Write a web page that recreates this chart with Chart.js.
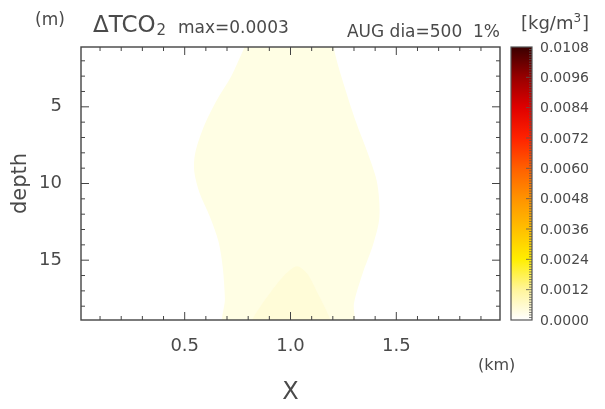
<!DOCTYPE html>
<html>
<head>
<meta charset="utf-8">
<script src="https://cdn.jsdelivr.net/npm/chart.js@4.4.0/dist/chart.umd.min.js"></script>
<style>
  body { margin: 0; background: #fff; }
  #wrap { width: 605px; height: 409px; }
</style>
</head>
<body>
<div id="wrap"><canvas id="myChart"></canvas></div>
<script>
// contour level 1 (outer, faint) boundary: x in km, depth in m
const outerX     = [0.81, 0.77, 0.72, 0.65, 0.59, 0.55, 0.545, 0.57, 0.62, 0.66, 0.68, 0.69, 0.69, 1.29, 1.30, 1.34, 1.39, 1.42, 1.41, 1.37, 1.31, 1.26, 1.21, 1.20]
const outerDepth = [0.3, 1.5, 3.0, 4.6, 6.3, 8.0, 9.2, 10.6, 12.2, 13.8, 15.5, 17.5, 19.5, 19.5, 17.8, 15.9, 14.0, 12.2, 10.0, 8.2, 6.0, 3.9, 1.5, 0.3]
// contour level 2 (inner) near the bottom
const innerX     = [0.80, 0.83, 0.90, 0.97, 1.03, 1.08, 1.13, 1.18, 1.20]
const innerDepth = [19.5, 18.6, 17.2, 16.0, 15.4, 15.9, 17.2, 18.6, 19.5]

const xTicks = [0.5, 1.0, 1.5]
const depthTicks = [5, 10, 15]
const cbLevels = [0, 0.0012, 0.0024, 0.0036, 0.0048, 0.0060, 0.0072, 0.0084, 0.0096, 0.0108]
const cbColors = ['#ffffff', '#fff59a', '#ffee00', '#ffbf00', '#ff9300', '#ff6000', '#ff2200', '#e00000', '#980000', '#3a0000']
const levelColors = ['#fffee4', '#fffcd8']

const textColor = '#4a4a4a'
const font = 'DejaVu Sans'

const poly = (xs, ds) => xs.map((v, i) => ({x: v, y: ds[i]}))

const framePlugin = {
    id: 'frame',
    afterDraw(chart) {
        const ctx = chart.ctx
        const a = chart.chartArea
        const xs = chart.scales.x
        const ys = chart.scales.y
        ctx.save()
        ctx.strokeStyle = '#444'
        ctx.lineWidth = 1.4
        ctx.strokeRect(a.left, a.top, a.right - a.left, a.bottom - a.top)
        ctx.lineWidth = 1
        // x ticks, inward, bottom and top
        for (let i = 1; i < 20; i++) {
            const px = xs.getPixelForValue(i / 10)
            const len = i % 5 === 0 ? 8 : 4
            ctx.beginPath()
            ctx.moveTo(px, a.bottom); ctx.lineTo(px, a.bottom - len)
            ctx.moveTo(px, a.top); ctx.lineTo(px, a.top + len)
            ctx.stroke()
        }
        // depth ticks, inward, left and right
        for (let d = 2; d <= 18; d++) {
            const py = ys.getPixelForValue(d)
            const len = d % 5 === 0 ? 8 : 4
            ctx.beginPath()
            ctx.moveTo(a.left, py); ctx.lineTo(a.left + len, py)
            ctx.moveTo(a.right, py); ctx.lineTo(a.right - len, py)
            ctx.stroke()
        }

        // colour bar
        const cbL = 511, cbR = 532
        const top = a.top, bot = a.bottom
        const vmax = cbLevels[cbLevels.length - 1]
        const grad = ctx.createLinearGradient(0, bot, 0, top)
        cbLevels.forEach((v, i) => grad.addColorStop(v / vmax, cbColors[i]))
        ctx.fillStyle = grad
        ctx.fillRect(cbL, top, cbR - cbL, bot - top)
        ctx.strokeStyle = '#555'
        ctx.lineWidth = 1.2
        ctx.strokeRect(cbL, top, cbR - cbL, bot - top)
        ctx.lineWidth = 0.8
        for (let i = 1; i < 108; i++) {
            const py = bot - (i / 108) * (bot - top)
            const len = i % 12 === 0 ? 6 : 3
            ctx.beginPath()
            ctx.moveTo(cbR, py); ctx.lineTo(cbR - len, py)
            ctx.stroke()
        }
        ctx.fillStyle = textColor
        ctx.font = '14px "' + font + '"'
        ctx.textBaseline = 'middle'
        ctx.textAlign = 'left'
        cbLevels.forEach(v => {
            const py = bot - (v / vmax) * (bot - top)
            ctx.fillText(v.toFixed(4), 540, py + 1)
        })

        // header and unit texts
        ctx.textBaseline = 'alphabetic'
        ctx.font = '17px "' + font + '"'
        ctx.fillText('(m)', 35, 25)
        ctx.font = '23px "' + font + '"'
        ctx.fillText('ΔTCO', 93, 32)
        const w = ctx.measureText('ΔTCO').width
        ctx.font = '15px "' + font + '"'
        ctx.fillText('2', 93 + w + 1, 35)
        ctx.font = '17px "' + font + '"'
        ctx.fillText('max=0.0003', 178, 33)
        ctx.textAlign = 'right'
        ctx.fillText('AUG dia=500  1%', 500, 37)
        ctx.textAlign = 'left'
        ctx.font = '18px "' + font + '"'
        let tx = 521
        ctx.fillText('[kg/m', tx, 29)
        tx += ctx.measureText('[kg/m').width
        ctx.font = '12px "' + font + '"'
        ctx.fillText('3', tx, 22)
        tx += ctx.measureText('3').width + 1
        ctx.font = '18px "' + font + '"'
        ctx.fillText(']', tx, 29)
        ctx.font = '16px "' + font + '"'
        ctx.fillText('(km)', 478, 370)
        ctx.restore()
    }
}

new Chart('myChart', {
    type: 'scatter',
    data: {
        datasets: [{
            label: 'level 2',
            data: poly(innerX, innerDepth),
            showLine: true,
            fill: 'shape',
            backgroundColor: levelColors[1],
            borderWidth: 0,
            pointRadius: 0,
            tension: 0.3
        }, {
            label: 'level 1',
            data: poly(outerX, outerDepth),
            showLine: true,
            fill: 'shape',
            backgroundColor: levelColors[0],
            borderWidth: 0,
            pointRadius: 0,
            tension: 0.3
        }]
    },
    options: {
        responsive: true,
        maintainAspectRatio: false,
        animation: false,
        layout: {padding: {left: 0, top: 47, right: 105, bottom: 0}},
        plugins: {legend: {display: false}, tooltip: {enabled: false}},
        scales: {
            x: {
                type: 'linear', min: 0.01, max: 1.99,
                grid: {display: false}, border: {display: false},
                afterBuildTicks: s => { s.ticks = xTicks.map(v => ({value: v})) },
                afterFit: s => { s.height = 89 },
                ticks: {padding: 8, color: textColor, font: {family: font, size: 18}, callback: v => v.toFixed(1)},
                title: {display: true, text: 'X', color: textColor, font: {family: font, size: 24}, padding: {top: 0, bottom: 2}}
            },
            y: {
                type: 'linear', reverse: true, min: 1.1, max: 18.9,
                grid: {display: false}, border: {display: false},
                afterBuildTicks: s => { s.ticks = depthTicks.map(v => ({value: v})) },
                afterFit: s => { s.width = 81 },
                ticks: {padding: 11, color: textColor, font: {family: font, size: 18}},
                title: {display: true, text: 'depth', color: textColor, font: {family: font, size: 21}, padding: {top: 8, bottom: 0}}
            }
        }
    },
    plugins: [framePlugin]
})
</script>
</body>
</html>
